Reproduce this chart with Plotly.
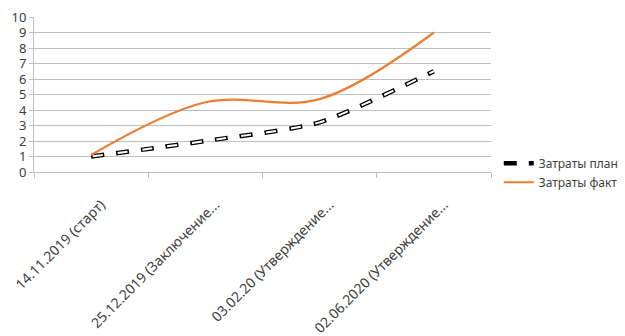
import plotly.graph_objects as go

categories = ["14.11.2019 (старт)", "25.12.2019 (Заключение...", "03.02.20 (Утверждение...", "02.06.2020 (Утверждение..."]
plan = [1, 2, 3.2, 6.5]
fact = [1.1, 4.5, 4.7, 9]
y_ticks = list(range(0, 11))

fig = go.Figure()
fig.add_trace(go.Scatter(x=categories, y=plan, mode="lines", name="Затраты план",
                         line=dict(color="black", width=4.5, dash="13px,12px", shape="spline", smoothing=0.6)))
fig.add_trace(go.Scatter(x=categories, y=plan, mode="lines", name="Затраты план", showlegend=False,
                         hoverinfo="skip",
                         line=dict(color="white", width=2, dash="0px,1.5px,10px,13.5px", shape="spline", smoothing=0.6)))
fig.add_trace(go.Scatter(x=categories, y=fact, mode="lines", name="Затраты факт",
                         line=dict(color="#ED7D31", width=2.2, shape="spline", smoothing=1)))

fig.update_layout(
    width=625, height=336,
    margin=dict(l=34, r=134, t=17, b=164, autoexpand=False),
    paper_bgcolor="white", plot_bgcolor="white",
    font=dict(family="Noto Sans", size=13, color="#404040"),
    showlegend=True,
    legend=dict(x=1.017, y=0.15, xanchor="left", yanchor="top", bgcolor="rgba(0,0,0,0)",
                font=dict(size=12, color="#404040"), tracegroupgap=0, itemwidth=30),
    xaxis=dict(type="category", range=[-0.5, 3.5], tickangle=-45, tickson="boundaries", ticks="outside", ticklen=5,
               tickcolor="#BFBFBF", showline=True, linecolor="#BFBFBF", linewidth=1, automargin=False,
               ticklabelstandoff=18, ticklabelshift=10,
               showgrid=False, tickfont=dict(size=14, color="#404040")),
    yaxis=dict(range=[0, 10], tickvals=y_ticks, ticks="outside", ticklen=4, tickcolor="#BFBFBF",
               showline=True, linecolor="#BFBFBF", gridcolor="#BFBFBF", gridwidth=1, automargin=False,
               zeroline=False, tickfont=dict(size=13, color="#404040")),
)

fig.write_html("out.html")
